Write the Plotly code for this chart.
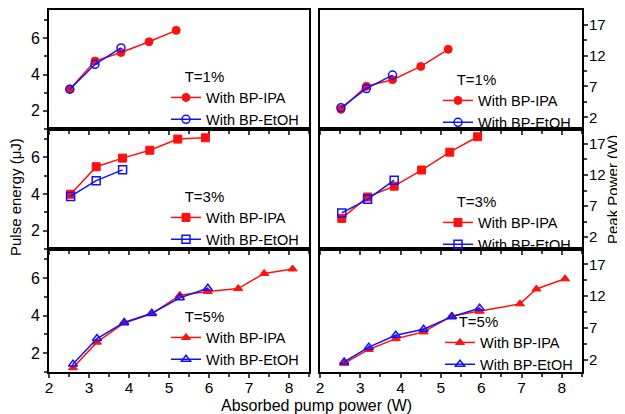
import plotly.graph_objects as go

# ---- data ----
x_T1 = [2.52, 3.15, 3.80, 4.50, 5.18]
E_IPA_T1 = [3.19, 4.74, 5.21, 5.80, 6.43]
E_EtOH_T1 = [3.19, 4.56, 5.46]
P_IPA_T1 = [3.29, 7.03, 8.10, 10.25, 13.03]
P_EtOH_T1 = [3.55, 6.66, 8.85]

x_T3 = [2.54, 3.18, 3.84, 4.52, 5.22, 5.91]
E_IPA_T3 = [3.99, 5.49, 5.96, 6.39, 7.00, 7.07]
E_EtOH_T3 = [3.87, 4.73, 5.32]
P_IPA_T3 = [5.02, 8.46, 10.20, 12.80, 15.67, 18.15]
P_EtOH_T3 = [5.91, 8.09, 11.16]

x_T5_E = [2.60, 3.20, 3.88, 4.57, 5.27, 5.97, 6.73, 7.38, 8.09]
x_T5_P = [2.60, 3.21, 3.88, 4.57, 5.27, 5.96, 6.96, 7.37, 8.08]
E_IPA_T5 = [1.23, 2.59, 3.61, 4.10, 5.09, 5.29, 5.44, 6.25, 6.49]
E_EtOH_T5 = [1.42, 2.78, 3.64, 4.13, 4.95, 5.46]
P_IPA_T5 = [1.46, 3.64, 5.33, 6.39, 8.88, 9.63, 10.79, 13.13, 14.72]
P_EtOH_T5 = [1.68, 4.00, 5.86, 6.82, 8.78, 10.10]

T_labels = ["T=1%", "T=3%", "T=5%"]
x_ticks = [2, 3, 4, 5, 6, 7, 8]
E_ticks = [2, 4, 6]
P_ticks = [2, 7, 12, 17]

RED = "#ff1010"
BLUE = "#1010ff"
FONT = "Liberation Sans, Arial, sans-serif"

rows = [
    (x_T1, x_T1, E_IPA_T1, E_EtOH_T1, P_IPA_T1, P_EtOH_T1, "circle"),
    (x_T3, x_T3, E_IPA_T3, E_EtOH_T3, P_IPA_T3, P_EtOH_T3, "square"),
    (x_T5_E, x_T5_P, E_IPA_T5, E_EtOH_T5, P_IPA_T5, P_EtOH_T5, "triangle-up"),
]

OFF = 8  # page body margin
W, H = 625 - OFF, 414 - OFF


def px(x):
    return (x - OFF) / W


def py(y):
    return 1 - (y - OFF) / H


# screen-pixel layout
col_px = [(49, 309), (320, 582)]
row_px = [(10, 129), (129, 249), (249, 372)]
# legend top-left (screen px)
leg_px = [[(166, 62), (438, 65)], [(166, 182), (438, 187)], [(166, 302), (440, 307)]]
NB = "\u00a0" * 4

fig = go.Figure()
layout = {}
for r, (xe, xp, eI, eE, pI, pE, sym) in enumerate(rows):
    for c in range(2):
        i = r * 2 + c + 1
        xa = "x" if i == 1 else f"x{i}"
        ya = "y" if i == 1 else f"y{i}"
        lg = "legend" if i == 1 else f"legend{i}"
        xs = xe if c == 0 else xp
        yI, yE = (eI, eE) if c == 0 else (pI, pE)
        fig.add_trace(go.Scatter(
            x=xs, y=yI, mode="lines+markers", name="With BP-IPA",
            line=dict(color=RED, width=1.5),
            marker=dict(symbol=sym, size=8, color=RED, line=dict(color=RED, width=1)),
            xaxis=xa, yaxis=ya, legend=lg))
        fig.add_trace(go.Scatter(
            x=xs[:len(yE)], y=yE, mode="lines+markers", name="With BP-EtOH",
            line=dict(color=BLUE, width=1.5),
            marker=dict(symbol=sym + "-open", size=8, color=BLUE, line=dict(color=BLUE, width=1.5)),
            xaxis=xa, yaxis=ya, legend=lg))
        x0, x1 = col_px[c]
        y0, y1 = row_px[r]
        last = r == 2
        layout[xa.replace("x", "xaxis")] = dict(
            domain=[px(x0), px(x1)], anchor=ya, range=[2, 8.5],
            tickvals=x_ticks, showticklabels=last, ticks="outside", ticklen=4, tickwidth=1.5,
            ticklabelstandoff=-4,
            minor=dict(dtick=0.5, tick0=2, ticks="outside", ticklen=3, tickwidth=1.5),
            showline=True, linecolor="black", linewidth=2, mirror=True,
            showgrid=False, zeroline=False, automargin=False,
            tickfont=dict(size=15.5, color="black", family=FONT))
        if c == 0:
            ya_d = dict(range=[1.0, 7.55], tickvals=E_ticks, side="left",
                        tickfont=dict(size=16, color="black", family=FONT),
                        minor=dict(dtick=1, tick0=1, ticks="outside", ticklen=3, tickwidth=1.5))
        else:
            ya_d = dict(range=[0.1, 19.4], tickvals=P_ticks, side="right",
                        ticklabelstandoff=-2,
                        tickfont=dict(size=15, color="black", family=FONT),
                        minor=dict(dtick=2.5, tick0=2, ticks="outside", ticklen=3, tickwidth=1.5))
        ya_d.update(domain=[py(y1), py(y0)], anchor=xa,
                    ticks="outside", ticklen=4, tickwidth=1.5,
                    showline=True, linecolor="black", linewidth=2, mirror=True,
                    showgrid=False, zeroline=False, automargin=False)
        layout[ya.replace("y", "yaxis")] = ya_d
        lx, ly = leg_px[r][c]
        layout[lg] = dict(
            x=px(lx), y=py(ly), xanchor="left", yanchor="top",
            bgcolor="rgba(0,0,0,0)", borderwidth=0,
            title=dict(text=NB + T_labels[r], font=dict(size=15, color="black", family=FONT)),
            font=dict(size=14.5, color="black", family=FONT),
            tracegroupgap=0, itemwidth=30)

fig.update_layout(**layout)
fig.update_layout(
    width=W, height=H, margin=dict(l=0, r=0, t=0, b=0, pad=0, autoexpand=False),
    plot_bgcolor="white", paper_bgcolor="white", showlegend=True,
    font=dict(family=FONT, color="black"),
    annotations=[
        dict(text="Absorbed pump power (W)", x=px(316), y=py(405), xref="paper", yref="paper",
             xanchor="center", yanchor="middle",
             showarrow=False, font=dict(size=16, family=FONT, color="black")),
        dict(text="Pulse energy (\u03bcJ)", x=px(16), y=py(197), xref="paper", yref="paper",
             xanchor="center", yanchor="middle",
             showarrow=False, textangle=-90, font=dict(size=15, family=FONT, color="black")),
        dict(text="Peak Power (W)", x=px(612), y=py(190), xref="paper", yref="paper",
             xanchor="center", yanchor="middle",
             showarrow=False, textangle=-90, font=dict(size=15, family=FONT, color="black")),
    ],
)

fig.write_html("out.html")
